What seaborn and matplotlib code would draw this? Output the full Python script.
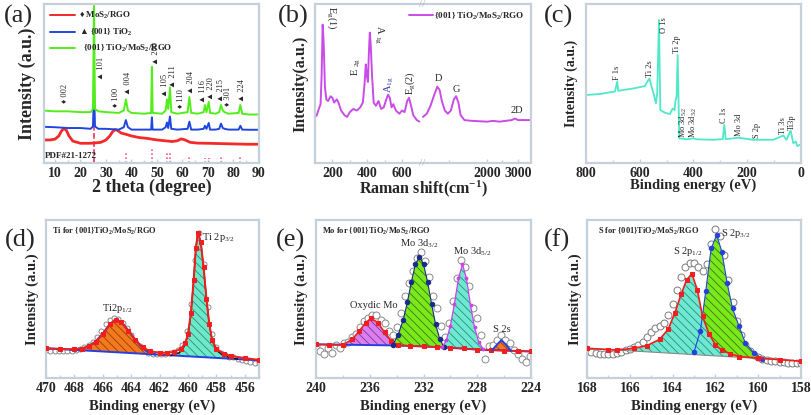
import numpy as np
import matplotlib
matplotlib.use("Agg")
import matplotlib.pyplot as plt
import matplotlib.transforms as mtrans
from matplotlib.lines import Line2D
from matplotlib.ticker import MultipleLocator, FixedLocator
import seaborn as sns

sns.set_theme(style="white")
plt.rcParams["font.family"] = ["Liberation Serif", "DejaVu Serif"]
plt.rcParams["font.weight"] = "bold"
plt.rcParams["mathtext.default"] = "regular"
plt.rcParams["mathtext.fallback"] = "stix"
plt.rcParams["hatch.linewidth"] = 0.6

FRAME = "#c6d0da"

# ---------------- (a) XRD ----------------
xrd_x = [5, 10, 15, 20, 24, 24.9, 25.3, 25.7, 27, 30, 35, 37.0, 37.8, 38.6, 40, 45, 47.7, 48.0, 48.3, 52,
         53.4, 53.9, 54.4, 55.1, 55.6, 58, 62.0, 62.7, 63.4, 66, 68.3, 68.8, 69.4, 70.3, 70.8, 73, 74.4,
         75.1, 75.8, 76.5, 78, 82.0, 82.7, 83.4, 86, 90]
xrd_green = [33, 32.5, 32.5, 32, 32, 34, 99, 34, 32.5, 32, 31.5, 33, 40, 33, 31.5, 31, 31.5, 60.5, 31.5, 31,
             33, 40, 34, 47.5, 32, 31, 32, 41.5, 31.5, 31, 32, 36.5, 32, 38.5, 31.5, 31, 32,
             36.5, 33, 32, 31, 31.5, 36.5, 31, 30.5, 30.5]
xrd_blue = [22.8, 22.5, 22, 22, 21.5, 23, 47.5, 23, 21.5, 21.5, 21, 22.5, 27, 22.5, 21, 21, 21, 28.7, 21, 21,
            22.5, 25.5, 22, 29.3, 21.5, 21, 21.5, 26, 21, 21, 21.5, 23.4, 21.5, 25.2, 21, 21, 21.5,
            24.8, 22, 21.5, 21, 21, 23.4, 21, 20.9, 20.9]
xrd_red_x = [5, 8, 10, 11.5, 12.5, 13.5, 14.5, 15.5, 17, 20, 23, 25, 28, 30, 31.5, 32.5, 33.5, 34.5, 36, 38,
             40, 43, 46, 50, 53, 56, 58, 59.5, 61, 63, 66, 70, 75, 80, 85, 90]
xrd_red = [14.5, 14.5, 15, 17, 20, 21.8, 20.5, 17, 13.8, 12.4, 12.4, 12.5, 13, 14.5, 17, 19.5, 21, 20.5, 18.8, 18,
           17, 16, 15.5, 14.5, 14, 13.5, 14, 15.2, 14.5, 13, 12.5, 12.4, 12.2, 12, 11.8, 11.8]
pdf_pos = [25.3, 37.8, 48.0, 53.9, 55.1, 62.7, 68.8, 70.3, 75.0, 82.7]
pdf_h = [30, 7, 10, 7, 7, 5, 3, 3, 5, 3.5]
xrd_ann = ["♦ 002", "▲ 101", "♦ 100", "▲ 004", "▲ 200", "▲ 105", "▲ 211", "♦ 110", "▲ 204",
           "▲ 116", "▲ 220", "▲ 215", "♦ 301", "▲ 224"]
xrd_ann_x = [14, 28.2, 33.7, 38.7, 49.6, 53.2, 56.1, 59.4, 63.2, 68.1, 71.0, 75.2, 78.0, 83.3]
xrd_ann_y = [37.5, 52.2, 35, 42.8, 61.6, 41.7, 47, 34.4, 43.2, 37.5, 39.6, 38.6, 35.6, 38.6]

# ---------------- (b) Raman ----------------
raman_x1 = [100, 110, 125, 132, 138, 144, 150, 157, 165, 175, 190, 200, 210, 225, 235, 250, 270, 285, 300, 320,
            340, 360, 375, 385, 392, 398, 404, 410, 415, 420, 428, 437, 450, 465, 480, 495, 510, 520, 530, 540,
            550, 565, 585, 600, 615, 630, 640, 650, 665, 685, 700]
raman_y1 = [29, 30, 35, 37, 55, 87, 75, 48, 40, 39, 42, 41, 38, 40, 38, 33, 30, 29, 32, 34,
            33, 35, 38, 50, 62, 55, 51, 70, 82, 75, 55, 38, 36, 39, 34, 35, 40, 43, 41, 35,
            37, 33, 31, 33, 32, 39, 41, 37, 30, 27, 26]
raman_x2 = [1150, 1200, 1250, 1300, 1340, 1370, 1400, 1440, 1480, 1520, 1560, 1590, 1620, 1650, 1700, 1800,
            2000, 2200, 2400, 2600, 2800, 2900, 3000, 3200, 3400]
raman_y2 = [29, 31, 36, 43, 48, 46, 39, 33, 31, 33, 40, 42, 38, 30, 27, 26.5,
            26, 26.5, 26, 26.5, 27, 28, 27, 27, 27]
raman_knots = [100, 715, 1150, 2000, 3000, 3450]
raman_pos = [0, 107, 108, 172, 203, 216]

# ---------------- (c) XPS survey ----------------
survey_e = [797, 748, 692, 684, 680, 624, 580, 576, 564, 556, 547, 540, 535, 528.4, 523.5, 506, 487.5, 477.6,
            470, 467.7, 463, 459, 455, 452.6, 425, 400, 388, 326, 291, 285.4, 280, 233.4, 177.6, 103, 66,
            54, 38.6, 28.6, 19, 14, 4]
survey_y = [42.8, 43.4, 45, 51.2, 45.4, 46.9, 48.4, 50, 53.2, 48, 42.8, 37.5, 43.8, 89.9, 33.3, 31.6, 30.8, 34.3,
            33.3, 38.6, 41.7, 67.9, 33.3, 15.5, 14.9, 15.5, 14.9, 14.6, 15, 24, 15, 15.9, 14.6, 14.6, 17.3,
            14.6, 20.5, 12.4, 13.5, 10.6, 11.5]
survey_lab = ["F 1s", "Ti 2s", "O 1s", "Ti 2p", "Mo 3d$_{5/2}$", "Mo 3d$_{3/2}$", "C 1s", "Mo 3d", "S 2p",
              "Ti 3s", "Ti3p"]
survey_lab_e = [684, 562, 511, 463, 437, 399, 285, 230, 162, 68, 34]
survey_lab_y = [52, 54, 81.5, 69, 16, 16, 25, 17, 16, 18, 21]

# ---------------- (d) Ti 2p ----------------
ti_e = [470.0, 469.7, 469.4, 469.1, 468.8, 468.5, 468.2, 467.9, 467.6, 467.3, 467.0, 466.7, 466.4, 466.1, 465.8,
        465.5, 465.2, 464.9, 464.6, 464.3, 464.0, 463.7, 463.4, 463.1, 462.8, 462.5, 462.2, 461.9, 461.6, 461.3,
        461.0, 460.7, 460.4, 460.1, 459.8, 459.5, 459.2, 458.9, 458.6, 458.3, 458.0, 457.7, 457.4, 457.1, 456.8,
        456.5, 456.2, 455.9, 455.6, 455.3, 455.0]
ti_raw = [17.5, 17.3, 17.0, 16.9, 16.8, 16.9, 17.2, 17.8, 18.6, 19.6, 21.0, 23.0, 26.0, 30.0, 34.0,
          37.0, 38.0, 37.5, 35.0, 31.5, 27.5, 23.5, 20.0, 17.5, 16.0, 15.2, 15.0, 15.0, 15.3, 15.8,
          16.5, 17.5, 21.0, 30.0, 47.0, 75.0, 92.0, 72.0, 45.0, 28.0, 19.5, 16.0, 14.5, 13.6, 13.0,
          12.3, 11.7, 11.0, 10.3, 9.8, 9.5]
ti_env_e = [470, 469, 468, 467.5, 467, 466.5, 466, 465.5, 465.1, 464.7, 464.2, 463.7, 463.2, 462.7, 462, 461.5,
            461, 460.5, 460.2, 460, 459.8, 459.6, 459.45, 459.3, 459.1, 458.9, 458.7, 458.5, 458.3, 458, 457.5,
            457, 456, 455]
ti_env = [18.8, 18.4, 18.2, 18.6, 20.0, 23.0, 28.0, 34.0, 37.0, 35.5, 30.0, 24.0, 19.5, 17.0, 16.0, 16.0,
          16.5, 18.5, 22, 28, 41, 62, 82, 92, 86, 70, 50, 34, 24, 18.5, 15.5, 14, 12.6, 11.5]
ti_base_e = [470, 455]
ti_base = [18.8, 11.2]
ti_p12_e = [468.2, 467.5, 467.0, 466.5, 466.0, 465.5, 465.1, 464.7, 464.2, 463.7, 463.2, 462.7, 462.3]
ti_p12 = [17.9, 18.6, 20.0, 23.0, 28.0, 34.0, 37.0, 35.5, 30.0, 24.0, 19.0, 15.8, 14.9]
ti_p32_e = [461.2, 460.6, 460.3, 460.0, 459.8, 459.6, 459.45, 459.3, 459.1, 458.9, 458.7, 458.5, 458.3, 458.0,
            457.5, 457.0, 456.5]
ti_p32 = [14.3, 16.0, 19.5, 27.0, 40.0, 62.0, 82.0, 92.0, 86.0, 70.0, 50.0, 34.0, 24.0, 17.5, 14.2, 12.8, 12.0]

# ---------------- (e) Mo 3d ----------------
mo_e = [240.0, 239.7, 239.4, 239.1, 238.8, 238.5, 238.2, 237.9, 237.6, 237.3, 237.0, 236.7, 236.4, 236.1, 235.8,
        235.5, 235.2, 234.9, 234.6, 234.3, 234.0, 233.7, 233.4, 233.1, 232.8, 232.5, 232.2, 231.9, 231.6, 231.3,
        231.0, 230.7, 230.4, 230.1, 229.8, 229.5, 229.2, 228.9, 228.6, 228.3, 228.0, 227.7, 227.4, 227.1, 226.8,
        226.5, 226.2, 225.9, 225.6, 225.3, 225.0, 224.7, 224.4, 224.1]
mo_raw = [20, 17, 15, 19, 16, 21, 19, 22, 23, 26, 28, 32, 36, 38, 40,
          40, 37, 35, 30, 27, 32, 41, 52, 60, 68, 76, 80, 74, 64, 52,
          44, 33, 26, 35, 49, 63, 75, 70, 58, 44, 38, 27, 12, 20, 21,
          24, 27, 24, 22, 18, 15, 12, 10, 14]
mo_base_e = [240, 234, 231, 228, 224]
mo_base = [21.3, 20.6, 19.6, 18.0, 16.8]
mo_env_e = [240, 239, 238.0, 237.3, 236.8, 236.3, 235.9, 235.4, 234.9, 234.4, 233.9, 233, 232, 231, 230, 229,
            228, 227, 226, 225, 224]
mo_env = [21.3, 21.1, 21.0, 24.5, 29.5, 35.0, 37.8, 35.0, 29.0, 23.5, 20.7, 20.3, 20.0, 19.6, 19.2, 18.7,
          18.0, 17.6, 17.3, 17.0, 16.8]
mo_ox_e = [238.0, 237.3, 236.8, 236.3, 235.9, 235.4, 234.9, 234.4, 233.9]
mo_ox = [21.0, 24.5, 29.5, 35.0, 37.8, 35.0, 29.0, 23.5, 20.6]
mo_32_e = [234.3, 233.9, 233.5, 233.2, 232.9, 232.6, 232.3, 232.0, 231.7, 231.4, 231.1, 230.8, 230.5]
mo_32 = [20.8, 27, 37, 48, 61, 72, 76.8, 72, 61, 47, 34, 25, 19.8]
mo_52_e = [230.6, 230.3, 230.0, 229.7, 229.4, 229.1, 228.8, 228.5, 228.2, 227.9, 227.55]
mo_52 = [19.5, 24, 33, 47, 63, 72, 63, 46, 32, 23, 18.2]
mo_s2s_e = [226.9, 226.6, 226.2, 225.8, 225.5]
mo_s2s = [17.5, 20.5, 24, 20.5, 17.3]

# ---------------- (f) S 2p ----------------
s_e = [168.0, 167.8, 167.6, 167.4, 167.2, 167.0, 166.8, 166.6, 166.4, 166.2, 166.0, 165.8, 165.6, 165.4, 165.2,
       165.0, 164.8, 164.6, 164.4, 164.2, 164.0, 163.8, 163.6, 163.4, 163.2, 163.0, 162.8, 162.6, 162.4, 162.2,
       162.0, 161.8, 161.6, 161.4, 161.2, 161.0, 160.8, 160.6, 160.4, 160.2, 160.0, 159.8, 159.6, 159.4, 159.2,
       159.0, 158.8, 158.6, 158.4, 158.2, 158.0]
s_raw = [17.0, 16.5, 16.0, 15.5, 15.0, 15.0, 15.5, 16.0, 16.5, 17.5, 18.5, 19.5, 21.0, 23.0, 26.0,
         29.0, 31.5, 33.0, 35.0, 40.0, 47.0, 56.0, 64.0, 70.0, 72.5, 72.5, 70.0, 68.0, 72.0, 85.0,
         94.0, 90.0, 78.0, 62.0, 48.0, 36.0, 27.0, 21.0, 17.0, 14.5, 13.0, 12.0, 11.5, 11.0, 10.5,
         10.2, 10.0, 9.8, 9.6, 9.5, 9.5]
s_base_e = [168, 158]
s_base = [18.8, 10.8]
s_p12_e = [166.6, 165.8, 165.2, 164.6, 164.2, 163.9, 163.6, 163.35, 163.1, 162.85, 162.6, 162.3, 162.0, 161.7,
           161.3, 160.9]
s_p12 = [17.7, 18.8, 20.5, 24.5, 31, 41, 53, 62, 66, 56, 39, 28, 21, 17.5, 15.3, 13.2]
s_p32_e = [163.0, 162.7, 162.45, 162.2, 161.94, 161.7, 161.45, 161.2, 160.9, 160.6, 160.2, 159.8]
s_p32 = [16.4, 30, 55, 82, 90.5, 80, 60, 44, 33, 22, 16, 12.2]
s_env_e = [168, 167, 166.6, 165.8, 165.2, 164.6, 164.2, 163.9, 163.6, 163.35, 163.1, 162.85, 162.6, 162.3,
           162.0, 161.7, 161.3, 160.9, 160.0, 159.0, 158.0]
s_env = [18.8, 18.0, 17.7, 18.8, 20.5, 24.5, 31, 41, 53, 62, 66, 56, 39, 28, 21, 17.5, 15.3, 13.6, 12.6,
         11.6, 10.6]


# ---------------- figure ----------------
fig = plt.figure(figsize=(8.12, 4.15), dpi=100)
W, H = 812, 415


def add_ax(left, top, right, bottom):
    return fig.add_axes([left / W, 1 - bottom / H, (right - left) / W, (bottom - top) / H])


def style(ax, xlabel, ylabel, xl, yl, xsize=10.5, ysize=10.5):
    for s in ax.spines.values():
        s.set_color(FRAME)
        s.set_linewidth(1.6)
    ax.set_yticks([])
    ax.set_ylim(0, 100)
    ax.tick_params(axis="x", which="major", direction="in", length=3, color=FRAME, width=1,
                   labelsize=10, pad=3, bottom=True)
    ax.tick_params(axis="x", which="minor", direction="in", length=2, color=FRAME, width=1, bottom=True)
    ax.set_xlabel(xlabel, fontsize=xsize, fontweight="bold")
    ax.set_ylabel(ylabel, fontsize=ysize, fontweight="bold")
    ax.xaxis.set_label_coords(0.5, xl)
    ax.yaxis.set_label_coords(yl, 0.5)


def hatch_fill(ax, x, y, face, edge):
    ax.fill(x, y, facecolor=face, edgecolor=edge, hatch="\\\\\\\\", linewidth=0, zorder=2)


panel_lab = ["(a)", "(b)", "(c)", "(d)", "(e)", "(f)"]
panel_xy = [(18, 16), (293, 16), (559, 16), (20, 240), (291, 240), (557, 240)]
for lab, (px, py) in zip(panel_lab, panel_xy):
    fig.text(px / W, 1 - py / H, lab, fontsize=19, fontweight="normal", ha="center", va="center")

# (a)
ax = add_ax(44, 4, 259, 163)
for p, h in zip(pdf_pos, pdf_h):
    ax.vlines(p, 0, h, color="#ff3c78" if p != 25.3 else "#e8204a", lw=1.1,
              linestyles="--" if p == 25.3 else ":", zorder=1)
sns.lineplot(x=xrd_red_x, y=xrd_red, ax=ax, color="#f22a2a", lw=2.0, estimator=None, sort=False)
sns.lineplot(x=xrd_x, y=xrd_blue, ax=ax, color="#2146e0", lw=1.4, estimator=None, sort=False)
sns.lineplot(x=xrd_x, y=xrd_green, ax=ax, color="#52ee1a", lw=1.4, estimator=None, sort=False)
for t, x, y in zip(xrd_ann, xrd_ann_x, xrd_ann_y):
    ax.text(x, y, t, rotation=90, ha="center", va="bottom", fontsize=6, fontweight="normal")
ax.text(6, 4.5, "PDF#21-1272", fontsize=6.5, ha="left", va="center")
handles = [Line2D([], [], color="#f22a2a", lw=1.4), Line2D([], [], color="#2146e0", lw=1.4),
           Line2D([], [], color="#52ee1a", lw=1.4)]
ax.legend(handles, ["♦ MoS$_2$/RGO", "▲ {001} TiO$_2$", "  {001} TiO$_2$/MoS$_2$/RGO"],
          loc="upper left", frameon=False, fontsize=6.4, handlelength=2.8, labelspacing=0.6,
          borderaxespad=0.3, handletextpad=0.4)
ax.set_xlim(5.7, 90)
ax.xaxis.set_major_locator(MultipleLocator(10))
ax.xaxis.set_minor_locator(MultipleLocator(5))
style(ax, "2 theta (degree)", "Intensity (a.u.)", -0.1, -0.039, xsize=13, ysize=13)

# (b)
ax = add_ax(315, 4, 531, 163)
ax.set_xscale("function", functions=(lambda v: np.interp(v, raman_knots, raman_pos),
                                     lambda v: np.interp(v, raman_pos, raman_knots)))
sns.lineplot(x=raman_x1, y=raman_y1, ax=ax, color="#c94ce8", lw=1.4, estimator=None, sort=False)
sns.lineplot(x=raman_x2, y=raman_y2, ax=ax, color="#c94ce8", lw=1.4, estimator=None, sort=False)
ax.set_xlim(100, 3450)
ax.xaxis.set_major_locator(FixedLocator([200, 400, 600, 2000, 3000]))
ax.xaxis.set_minor_locator(FixedLocator([300, 500, 1500, 2500]))
ax.xaxis.set_major_formatter(matplotlib.ticker.FuncFormatter(lambda v, p: f"{v:.0f}"))
tr = mtrans.blended_transform_factory(ax.transData, ax.transAxes)
for yy in (1.0, 0.0):
    ax.text(716, yy, "//", transform=tr, ha="center", va="center", fontsize=8, color="#a8b4c2",
            fontweight="normal", zorder=5)
rk = dict(fontsize=7.5, fontweight="normal")
ax.text(198, 99, "E$_g$(1)", rotation=-90, ha="center", va="top", **rk)
ax.text(340, 55, "E $_{2g}$", rotation=90, ha="center", va="bottom", **rk)
ax.text(464, 87, "A $_{1g}$", rotation=-90, ha="center", va="top", **rk)
ax.text(528, 44, "A$_{1g}$", rotation=90, ha="center", va="bottom", color="#2a3aa8", **rk)
ax.text(646, 43, "E$_g$(2)", rotation=90, ha="center", va="bottom", **rk)
ax.text(1350, 53, "D", ha="center", va="center", **rk)
ax.text(1590, 46, "G", ha="center", va="center", **rk)
ax.text(2950, 33, "2D", ha="center", va="center", **rk)
ax.legend([Line2D([], [], color="#c94ce8", lw=1.4)], ["{001} TiO$_2$/MoS$_2$/RGO"], loc="upper right",
          frameon=False, fontsize=6.5, handlelength=2.6, borderaxespad=0.3, handletextpad=0.2)
style(ax, "Raman shift(cm$^{-1}$)", "Intensity(a.u.)", -0.1, -0.032, xsize=11.5, ysize=11.5)

# (c)
ax = add_ax(586, 4, 801, 163)
sns.lineplot(x=survey_e, y=survey_y, ax=ax, color="#4fe8c8", lw=1.3, estimator=None, sort=False)
for t, x, y in zip(survey_lab, survey_lab_e, survey_lab_y):
    ax.text(x, y, t, rotation=90, ha="center", va="bottom", fontsize=6, fontweight="normal")
ax.set_xlim(800, 0)
ax.xaxis.set_major_locator(MultipleLocator(200))
ax.xaxis.set_minor_locator(MultipleLocator(100))
style(ax, "Binding energy (eV)", "Intensity (a.u.)", -0.1, -0.037, ysize=10)

# (d)
ax = add_ax(46, 220, 259, 378)
hatch_fill(ax, ti_p12_e, ti_p12, "#f27a1e", "#9a3c06")
hatch_fill(ax, ti_p32_e, ti_p32, "#6ee8c8", "#2a8f80")
sns.lineplot(x=ti_e, y=ti_raw, ax=ax, marker="o", linestyle="none", mfc="white", mec="#8a8a8a", ms=3.6,
             mew=0.7, estimator=None, sort=False, zorder=1)
sns.lineplot(x=ti_base_e, y=ti_base, ax=ax, color="#2640e0", lw=1.4, estimator=None, zorder=3)
sns.lineplot(x=ti_p12_e, y=ti_p12, ax=ax, color="#2640e0", lw=1.6, estimator=None, sort=False, zorder=3)
sns.lineplot(x=ti_p32_e, y=ti_p32, ax=ax, color="#111111", lw=1.0, estimator=None, sort=False, zorder=3)
sns.lineplot(x=ti_env_e, y=ti_env, ax=ax, color="#f01e1e", lw=1.4, marker="s", ms=2.6, mec="#f01e1e",
             estimator=None, sort=False, zorder=4)
ax.text(0.03, 0.93, "Ti for {001}TiO$_2$/MoS$_2$/RGO", transform=ax.transAxes, fontsize=6, va="center")
ax.text(459.0, 89, "Ti 2p$_{3/2}$", fontsize=7.5, fontweight="normal", ha="left", va="center")
ax.text(465.0, 44, "Ti2p$_{1/2}$", fontsize=7.5, fontweight="normal", ha="center", va="center")
ax.set_xlim(470, 455)
ax.xaxis.set_major_locator(MultipleLocator(2))
ax.xaxis.set_minor_locator(MultipleLocator(1))
style(ax, "Binding energy (eV)", "Intensity (a.u.)", -0.136, -0.035)

# (e)
ax = add_ax(316, 220, 531, 378)
sns.lineplot(x=mo_e, y=mo_raw, ax=ax, marker="o", linestyle="none", mfc="white", mec="#8a8a8a", ms=5,
             mew=0.7, estimator=None, sort=False, zorder=1)
hatch_fill(ax, mo_ox_e, mo_ox, "#dc7ef0", "#7a3a90")
hatch_fill(ax, mo_32_e, mo_32, "#7ae81a", "#3a7a0a")
hatch_fill(ax, mo_52_e, mo_52, "#6ee8d0", "#2a8f80")
hatch_fill(ax, mo_s2s_e, mo_s2s, "#f27a1e", "#9a3c06")
sns.lineplot(x=mo_base_e, y=mo_base, ax=ax, color="#2640e0", lw=1.4, estimator=None, zorder=3)
sns.lineplot(x=mo_env_e, y=mo_env, ax=ax, color="#f01e1e", lw=1.2, marker="s", ms=2.2, mec="#f01e1e",
             estimator=None, sort=False, zorder=4)
sns.lineplot(x=mo_32_e, y=mo_32, ax=ax, color="#1a2a8a", lw=0.8, marker="o", ms=3.2, mec="#1a2a8a",
             estimator=None, sort=False, zorder=4)
sns.lineplot(x=mo_52_e, y=mo_52, ax=ax, color="#d040e8", lw=0.9, marker="o", ms=2, mec="#d040e8",
             estimator=None, sort=False, zorder=4)
sns.lineplot(x=mo_s2s_e, y=mo_s2s, ax=ax, color="#2640e0", lw=1.4, estimator=None, sort=False, zorder=4)
ax.text(0.03, 0.93, "Mo for {001}TiO$_2$/MoS$_2$/RGO", transform=ax.transAxes, fontsize=6, va="center")
ax.text(232.3, 85, "Mo 3d$_{3/2}$", fontsize=7.5, fontweight="normal", ha="center", va="center")
ax.text(228.4, 80, "Mo 3d$_{5/2}$", fontsize=7.5, fontweight="normal", ha="center", va="center")
ax.text(235.7, 46, "Oxydic Mo", fontsize=7.5, fontweight="normal", ha="center", va="center")
ax.text(226.2, 30.5, "S 2s", fontsize=7.5, fontweight="normal", ha="center", va="center")
ax.set_xlim(240, 224)
ax.xaxis.set_major_locator(MultipleLocator(4))
ax.xaxis.set_minor_locator(MultipleLocator(2))
style(ax, "Binding energy (eV)", "Intensity (a.u.)", -0.136, -0.035)

# (f)
ax = add_ax(587, 220, 801, 378)
sns.lineplot(x=s_e, y=s_raw, ax=ax, marker="o", linestyle="none", mfc="white", mec="#7a7a7a", ms=5,
             mew=0.7, estimator=None, sort=False, zorder=1)
hatch_fill(ax, s_p32_e, s_p32, "#7ae81a", "#3a7a0a")
hatch_fill(ax, s_p12_e, s_p12, "#6ee8d0", "#2a8f80")
sns.lineplot(x=s_base_e, y=s_base, ax=ax, color="#888888", lw=0.8, estimator=None, zorder=3)
sns.lineplot(x=s_p32_e, y=s_p32, ax=ax, color="#2640e0", lw=0.8, marker="o", ms=3.2, mec="#2640e0",
             estimator=None, sort=False, zorder=4)
sns.lineplot(x=s_env_e, y=s_env, ax=ax, color="#f01e1e", lw=1.2, marker="s", ms=2.2, mec="#f01e1e",
             estimator=None, sort=False, zorder=4)
ax.text(0.05, 0.93, "S for {001}TiO$_2$/MoS$_2$/RGO", transform=ax.transAxes, fontsize=6, va="center")
ax.text(163.3, 80, "S 2p$_{1/2}$", fontsize=7.5, fontweight="normal", ha="center", va="center")
ax.text(161.75, 91.5, "S 2p$_{3/2}$", fontsize=7.5, fontweight="normal", ha="left", va="center")
ax.set_xlim(168, 158)
ax.xaxis.set_major_locator(MultipleLocator(2))
ax.xaxis.set_minor_locator(MultipleLocator(1))
style(ax, "Binding energy (eV)", "Intensity (a.u.)", -0.136, -0.023)

fig.savefig("out.png", dpi=100, facecolor="white")
